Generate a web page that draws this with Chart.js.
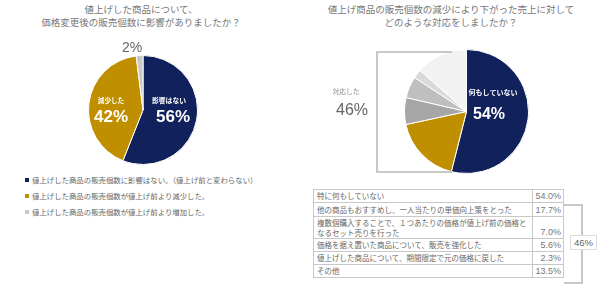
<!DOCTYPE html>
<html>
<head>
<meta charset="utf-8">
<script src="https://cdn.jsdelivr.net/npm/chart.js@4"></script>
<style>
    body { margin: 0; background: #fff; font-family: "Noto Sans CJK JP", sans-serif; }
    #stage { position: relative; width: 600px; height: 287px; overflow: hidden; }
    .abs { position: absolute; white-space: nowrap; }
    .title { font-size: 9.5px; color: #777; text-align: center; height: 12px; line-height: 12px; }
    .lbl { transform: translate(-50%, -50%); }
    .pct { font-family: "Liberation Sans", Arial, sans-serif; }
    #legend div { position: absolute; left: 25px; font-size: 7.4px; color: #666; height: 10px; line-height: 10px; }
    #legend span { display: inline-block; width: 4px; height: 4px; margin-right: 3px; vertical-align: 1px; }
    #tbl { position: absolute; left: 313px; top: 189px; border-collapse: collapse; font-size: 7.5px; color: #666; }
    #tbl td { border: 1px solid #c8c8c8; padding: 0 3px; line-height: 9.5px; }
    #tbl td.v { width: 28px; text-align: right; vertical-align: bottom; font-family: "Liberation Sans", Arial, sans-serif; font-size: 9px; color: #777; padding: 0 2px 1px 0; }
    #tbl td.t { width: 212px; white-space: pre-line; vertical-align: middle; }
</style>
</head>
<body>
<div id="stage">
    <div class="abs title" style="left:0; width:282px; top:3px;">値上げした商品について、</div>
    <div class="abs title" style="left:0; width:282px; top:16px;">価格変更後の販売個数に影響がありましたか？</div>
    <div class="abs title" style="left:300px; width:302px; top:3px;">値上げ商品の販売個数の減少により下がった売上に対して</div>
    <div class="abs title" style="left:300px; width:302px; top:16px;">どのような対応をしましたか？</div>

    <div class="abs" style="left:88px; top:55px;"><canvas id="pieLeft" width="110" height="110"></canvas></div>
    <div class="abs" style="left:404px; top:49px;"><canvas id="pieRight" width="125" height="125"></canvas></div>

    <div class="abs lbl" style="left:169px; top:100px; font-size:6.8px; color:#fff; font-weight:700;">影響はない</div>
    <div class="abs lbl pct" style="left:173px; top:117px; font-size:17px; color:#fff; font-weight:700;">56%</div>
    <div class="abs lbl" style="left:111px; top:100px; font-size:6.6px; color:#fff; font-weight:700;">減少した</div>
    <div class="abs lbl pct" style="left:111px; top:117px; font-size:17px; color:#fff; font-weight:700;">42%</div>
    <div class="abs lbl pct" style="left:132px; top:47px; font-size:14px; color:#666;">2%</div>

    <div class="abs" style="left:376px; top:51px; width:74px; height:118px; border:2px solid #c8c8c8; border-right:none;"></div>
    <div class="abs lbl" style="left:346px; top:91px; font-size:6.8px; color:#888;">対応した</div>
    <div class="abs lbl pct" style="left:352px; top:110px; font-size:16px; color:#666;">46%</div>
    <div class="abs lbl" style="left:493px; top:92px; font-size:7px; color:#fff; font-weight:700;">何もしていない</div>
    <div class="abs lbl pct" style="left:489px; top:114px; font-size:16px; color:#fff; font-weight:700;">54%</div>

    <div id="legend"></div>
    <table id="tbl"></table>

    <div class="abs" style="left:564px; top:204px; width:17px; height:76px; border:2px solid #c8c8c8; border-left:none;"></div>
    <div class="abs pct" style="left:570px; top:235px; width:25px; height:13px; line-height:13px; background:#fff; border:1px solid #ddd; font-size:9.5px; color:#666; text-align:center;">46%</div>
</div>
<script>
    const leftLabels = ['影響はない', '減少した', '増加した'];
    const leftValues = [56, 42, 2];
    const leftColors = ['#10215c', '#bf8f00', '#c8c8c8'];
    const legendTexts = [
        '値上げした商品の販売個数に影響はない。（値上げ前と変わらない）',
        '値上げした商品の販売個数が値上げ前より減少した。',
        '値上げした商品の販売個数が値上げ前より増加した。'
    ];

    const rightLabels = [
        '特に何もしていない',
        '他の商品もおすすめし、一人当たりの単価向上策をとった',
        '複数個購入することで、１つあたりの価格が値上げ前の価格と\nなるセット売りを行った',
        '価格を据え置いた商品について、販売を強化した',
        '値上げした商品について、期間限定で元の価格に戻した',
        'その他'
    ];
    const rightValues = [54.0, 17.7, 7.0, 5.6, 2.3, 13.5];
    const rightColors = ['#10215c', '#bf8f00', '#a6a6a6', '#bfbfbf', '#d9d9d9', '#f2f2f2'];

    const makePie = (id, labels, values, colors) => {
        const ctx = document.getElementById(id).getContext('2d');
        return new Chart(ctx, {
            type: 'pie',
            data: {
                labels: labels,
                datasets: [{
                    data: values,
                    backgroundColor: colors,
                    borderColor: '#fff',
                    borderWidth: 1,
                    hoverOffset: 0
                }]
            },
            options: {
                responsive: false,
                animation: false,
                events: [],
                layout: { padding: 0 },
                plugins: { legend: { display: false }, tooltip: { enabled: false } }
            }
        });
    };

    makePie('pieLeft', leftLabels, leftValues, leftColors);
    makePie('pieRight', rightLabels, rightValues, rightColors);

    // legend under the left pie
    const legend = document.getElementById('legend');
    const legendTops = [175, 191, 207];
    legendTexts.forEach((txt, i) => {
        const row = document.createElement('div');
        row.style.top = legendTops[i] + 'px';
        const sq = document.createElement('span');
        sq.style.background = leftColors[i];
        row.appendChild(sq);
        row.appendChild(document.createTextNode(txt));
        legend.appendChild(row);
    });

    // answer table
    const tbl = document.getElementById('tbl');
    const rowHeights = [13, 14, 22, 13, 13, 13];
    rightLabels.forEach((txt, i) => {
        const tr = document.createElement('tr');
        tr.style.height = rowHeights[i] + 'px';
        const t = document.createElement('td');
        t.className = 't';
        t.textContent = txt;
        const v = document.createElement('td');
        v.className = 'v';
        v.textContent = rightValues[i].toFixed(1) + '%';
        tr.appendChild(t);
        tr.appendChild(v);
        tbl.appendChild(tr);
    });
</script>
</body>
</html>
